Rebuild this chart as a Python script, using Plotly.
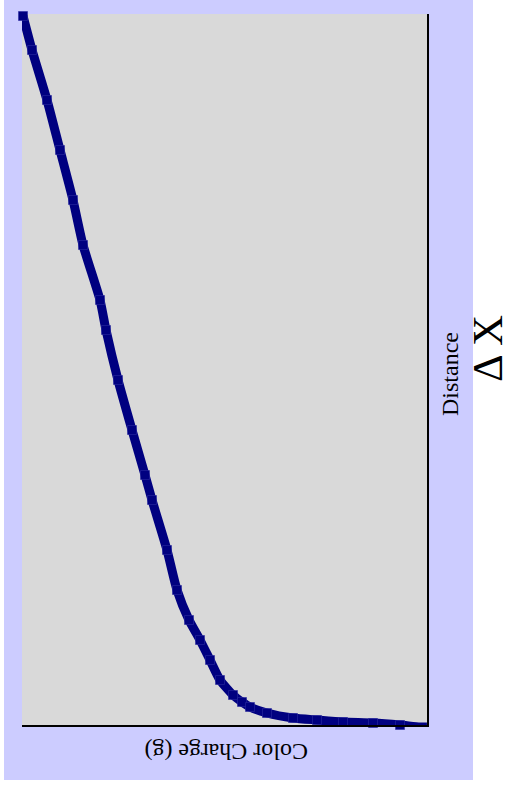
import plotly.graph_objects as go

# Values (horizontal: colour charge, 0 at the right edge;
# vertical: distance, 0 at the bottom edge)
color_charge = [4.04, 3.95, 3.80, 3.67, 3.54, 3.44, 3.27, 3.21, 3.09, 2.95,
                2.82, 2.75, 2.60, 2.50, 2.38, 2.27, 2.17, 2.07, 1.94, 1.85,
                1.77, 1.60, 1.34, 1.10, 0.84, 0.54, 0.27, 0.07, 0.00]
distance = [7.09, 6.75, 6.25, 5.75, 5.25, 4.80, 4.25, 3.95, 3.45, 2.95,
            2.50, 2.25, 1.75, 1.35, 1.05, 0.85, 0.65, 0.45, 0.30, 0.23,
            0.18, 0.12, 0.07, 0.05, 0.03, 0.02, 0.00, -0.02, -0.02]

x_title = "Color Charge (g)"
y_title = "Distance"
y_symbol = "Δ X"

W, H = 512, 792
ML, MR, MT, MB = 22, 85, 14, 67
pw, ph = W - ML - MR, H - MT - MB


def px(x):
    return (x - ML) / pw


def py(y):
    return (H - MB - y) / ph


fig = go.Figure()
fig.add_trace(go.Scatter(
    x=color_charge, y=distance, mode="lines+markers",
    line=dict(color="#000080", width=9, shape="spline", smoothing=0.6),
    marker=dict(symbol="square", size=9, color="#000080",
                line=dict(color="#2a2aa0", width=0.6)),
    cliponaxis=False, showlegend=False, hoverinfo="skip",
))

serif = "Liberation Serif, Times New Roman, serif"

fig.update_layout(
    width=W, height=H,
    margin=dict(l=ML, r=MR, t=MT, b=MB, pad=0),
    paper_bgcolor="#CCCCFF", plot_bgcolor="#D9D9D9",
    xaxis=dict(range=[4.05, 0], showgrid=False, zeroline=False,
               showticklabels=False, ticks="", showline=True,
               linecolor="black", linewidth=2, mirror=False),
    yaxis=dict(range=[0, 7.11], side="right", showgrid=False, zeroline=False,
               showticklabels=False, ticks="", showline=True,
               linecolor="black", linewidth=2, mirror=False),
    shapes=[
        dict(type="rect", xref="paper", yref="paper", layer="above",
             x0=px(-5), x1=px(4), y0=py(-5), y1=py(800),
             fillcolor="white", line=dict(width=0)),
        dict(type="rect", xref="paper", yref="paper", layer="above",
             x0=px(473), x1=px(520), y0=py(-5), y1=py(800),
             fillcolor="white", line=dict(width=0)),
        dict(type="rect", xref="paper", yref="paper", layer="above",
             x0=px(-5), x1=px(520), y0=py(780), y1=py(800),
             fillcolor="white", line=dict(width=0)),
    ],
    annotations=[
        dict(text=x_title, xref="paper", yref="paper", x=px(226), y=py(752),
             xanchor="center", yanchor="middle", showarrow=False,
             textangle=180, font=dict(family=serif, size=24, color="black")),
        dict(text=y_title, xref="paper", yref="paper", x=px(450), y=py(374),
             xanchor="center", yanchor="middle", showarrow=False,
             textangle=-90, font=dict(family=serif, size=24, color="black")),
        dict(text=y_symbol, xref="paper", yref="paper", x=px(488), y=py(349),
             xanchor="center", yanchor="middle", showarrow=False,
             textangle=-90, font=dict(family=serif, size=43, color="black")),
    ],
)

fig.write_html("out.html")
